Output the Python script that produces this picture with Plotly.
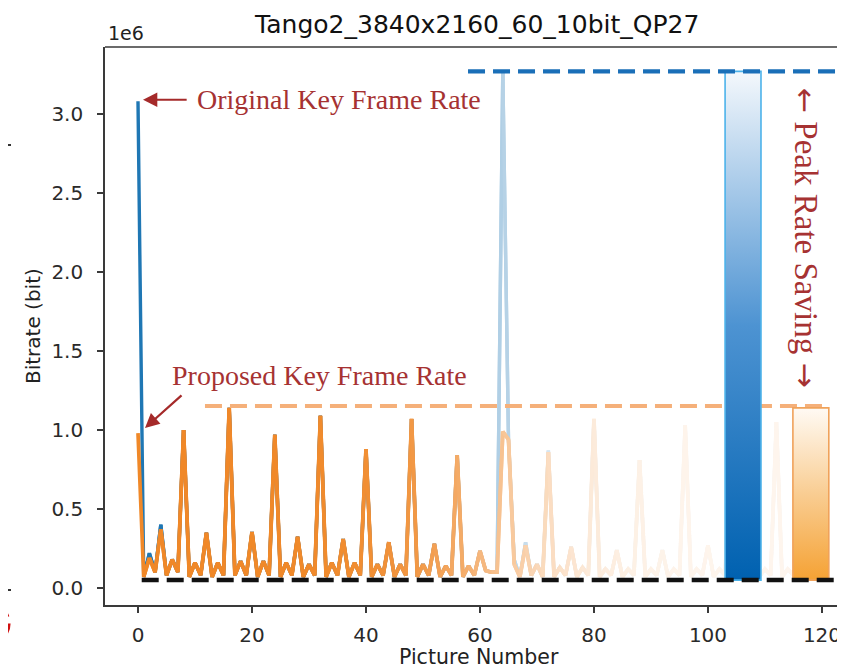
import math
import plotly.graph_objects as go

# ---------------- data (bits, in units of 1e6) ----------------
frames = list(range(120))

proposed_rate = [
    0.98, 0.07, 0.19, 0.10, 0.37, 0.08, 0.18, 0.10,
    1.00, 0.07, 0.16, 0.08, 0.35, 0.07, 0.16, 0.08,
    1.14, 0.08, 0.17, 0.08, 0.355, 0.07, 0.17, 0.08,
    0.97, 0.07, 0.16, 0.08, 0.325, 0.07, 0.15, 0.08,
    1.09, 0.07, 0.16, 0.08, 0.31, 0.07, 0.16, 0.08,
    0.88, 0.07, 0.15, 0.08, 0.29, 0.07, 0.15, 0.08,
    1.07, 0.07, 0.15, 0.08, 0.28, 0.07, 0.14, 0.08,
    0.84, 0.07, 0.14, 0.08, 0.235, 0.11, 0.10, 0.10,
    0.99, 0.94, 0.15, 0.07, 0.27, 0.08, 0.15, 0.07,
    0.86, 0.07, 0.13, 0.08, 0.26, 0.07, 0.13, 0.08,
    1.07, 0.07, 0.12, 0.08, 0.24, 0.07, 0.12, 0.08,
    0.81, 0.07, 0.12, 0.08, 0.24, 0.07, 0.12, 0.08,
    1.03, 0.07, 0.12, 0.08, 0.27, 0.07, 0.12, 0.08,
    0.95, 0.07, 0.12, 0.08, 0.25, 0.07, 0.12, 0.08,
    1.05, 0.07, 0.12, 0.08, 0.24, 0.07, 0.12, 0.08,
]

original_rate = list(proposed_rate)
original_changes = {0: 3.08, 2: 0.22, 4: 0.40, 64: 3.27, 66: 0.18, 68: 0.29, 72: 0.87}
for k, v in original_changes.items():
    original_rate[k] = v

base_rate = 0.05          # black dashed reference level
y_tick_vals = [0.0, 0.5, 1.0, 1.5, 2.0, 2.5, 3.0]
y_tick_text = ["0.0", "0.5", "1.0", "1.5", "2.0", "2.5", "3.0"]
x_tick_vals = [0, 20, 40, 60, 80, 100, 120]

peak_original = max(original_rate)
peak_proposed = max(proposed_rate)

# ---------------- styling ----------------
# page body has an 8px margin, so the figure is sized to end at the window edge
W, H = 837, 660
ML, MR, MT, MB = 97, 0, 39, 63
PW, PH = W - ML - MR, H - MT - MB
X_RANGE = [-5.79, 124.04]
Y_RANGE = [-0.1076, 3.424]

BLUE = (31, 119, 180)
ORANGE = (240, 136, 40)
RED = "#a63232"
AXIS = "#3a3a3a"


def fade(i, center):
    return 0.08 + 0.92 / (1.0 + math.exp((i - center) / 8.0))


def blend(rgb, a):
    r, g, b = [round(255 * (1 - a) + c * a) for c in rgb]
    return f"rgb({r},{g},{b})"


def px_x(px):   # window pixel -> paper x
    return (px - 8 - ML) / PW


def px_y(py):   # window pixel -> paper y
    return (MT + PH - (py - 8)) / PH


fig = go.Figure()

n = len(frames)
for series, col, wdt, ctr in ((original_rate, BLUE, 3.4, 56), (proposed_rate, ORANGE, 3.7, 62)):
    for i in range(n - 1):
        fig.add_trace(go.Scatter(
            x=frames[i:i + 3], y=series[i:i + 3], mode="lines",
            line=dict(color=blend(col, fade(i, ctr)), width=wdt),
            hoverinfo="skip", showlegend=False))

# orange dashed peak line (behind bars)
fig.add_trace(go.Scatter(x=[11.75, 121.0], y=[peak_proposed + 0.012] * 2, mode="lines",
                         line=dict(color="#f5b07a", width=4.2, dash="17px,8px"),
                         showlegend=False, hoverinfo="skip"))

# gradient bars
BAR_W = 6.3
for cx, top, cs, edge in (
        (106.15, peak_original, [[0, "#0061b0"], [0.5, "#4d93d2"], [1, "#f4f8fc"]], "#4cb2ea"),
        (118.05, peak_proposed, [[0, "#f5a234"], [0.5, "#f9cd92"], [1, "#fffaf4"]], "#f0a25a")):
    x0, x1 = cx - BAR_W / 2, cx + BAR_W / 2
    fig.add_trace(go.Scatter(
        x=[x0, x1, x1, x0, x0], y=[base_rate, base_rate, top, top, base_rate],
        mode="lines", fill="toself",
        fillgradient=dict(type="vertical", colorscale=cs),
        line=dict(color=edge, width=1.6), showlegend=False, hoverinfo="skip"))

# blue dashed peak line
fig.add_trace(go.Scatter(x=[57.9, 124.04], y=[peak_original] * 2, mode="lines",
                         line=dict(color="#1a6fb8", width=4.2, dash="17px,8px"),
                         showlegend=False, hoverinfo="skip"))
# black dashed base line
fig.add_trace(go.Scatter(x=[0.65, 124.04], y=[base_rate] * 2, mode="lines",
                         line=dict(color="#111111", width=4.5, dash="17px,8px"),
                         showlegend=False, hoverinfo="skip"))

ann_font = dict(family="Liberation Serif", size=28, color=RED)
arrow_span = '<span style="font-family:DejaVu Sans;font-size:30px">{}</span>'
annotations = [
    dict(x=10.0, y=3.09, xref="x", yref="y", text="Original Key Frame Rate",
         showarrow=False, xanchor="left", yanchor="middle", font=ann_font),
    dict(x=0.88, y=3.09, ax=8.8, ay=3.09, xref="x", yref="y", axref="x", ayref="y",
         text="", showarrow=True, arrowhead=2, arrowsize=1.3, arrowwidth=2.2, arrowcolor="#a52a2a"),
    dict(x=5.6, y=1.342, xref="x", yref="y", text="Proposed Key Frame Rate",
         showarrow=False, xanchor="left", yanchor="middle", font=ann_font),
    dict(x=1.23, y=1.013, ax=7.9, ay=1.228, xref="x", yref="y", axref="x", ayref="y",
         text="", showarrow=True, arrowhead=2, arrowsize=1.3, arrowwidth=2.2, arrowcolor="#a52a2a"),
    dict(x=117.3, y=2.218, xref="x", yref="y",
         text=arrow_span.format("←") + " Peak Rate Saving " + arrow_span.format("→"),
         showarrow=False, textangle=90, xanchor="center", yanchor="middle",
         font=dict(family="Liberation Serif", size=33, color=RED)),
    dict(x=0, y=1.025, xref="paper", yref="paper", text="1e6", showarrow=False,
         xanchor="left", yanchor="middle", xshift=1,
         font=dict(family="DejaVu Sans", size=19, color="#222")),
    dict(x=0, y=0.5, xref="paper", yref="paper", text="Bitrate (bit)", showarrow=False,
         textangle=-90, xanchor="center", yanchor="middle", xshift=-72,
         font=dict(family="DejaVu Sans", size=20, color="#222")),
    dict(x=0.505, y=-0.094, xref="paper", yref="paper", text="Picture Number", showarrow=False,
         xanchor="center", yanchor="middle",
         font=dict(family="DejaVu Sans", size=20.5, color="#222")),
]

shapes = [
    dict(type="line", xref="paper", yref="paper", x0=0, x1=1, y0=1, y1=1,
         line=dict(color=AXIS, width=1.6)),
    dict(type="circle", xref="paper", yref="paper",
         x0=px_x(-26), x1=px_x(9), y0=px_y(642), y1=px_y(605),
         line=dict(color="#d01010", width=3.2, dash="dash")),
    dict(type="line", xref="paper", yref="paper", x0=px_x(8), x1=px_x(11),
         y0=px_y(145), y1=px_y(145), line=dict(color="#333", width=2)),
    dict(type="line", xref="paper", yref="paper", x0=px_x(8), x1=px_x(11),
         y0=px_y(590), y1=px_y(590), line=dict(color="#333", width=2)),
]

tick_font = dict(family="DejaVu Sans", size=20, color="#2a2a2a")
fig.update_layout(
    width=W, height=H, autosize=False,
    margin=dict(l=ML, r=MR, t=MT, b=MB),
    paper_bgcolor="white", plot_bgcolor="white",
    showlegend=False,
    title=dict(text="Tango2_3840x2160_60_10bit_QP27", x=0.503, xref="paper",
               y=1 - 16 / H, yref="container", xanchor="center", yanchor="middle",
               font=dict(family="DejaVu Sans", size=25, color="#111")),
    xaxis=dict(range=X_RANGE, tickvals=x_tick_vals, showgrid=False, zeroline=False,
               showline=True, linecolor=AXIS, linewidth=1.6, ticks="outside",
               ticklen=6, tickwidth=1.5, tickcolor=AXIS, tickfont=tick_font,
               ticklabelstandoff=5, automargin=False),
    yaxis=dict(range=Y_RANGE, tickvals=y_tick_vals, ticktext=y_tick_text, showgrid=False,
               zeroline=False, showline=True, linecolor=AXIS, linewidth=1.6,
               ticks="outside", ticklen=6, tickwidth=1.5, tickcolor=AXIS,
               tickfont=tick_font, ticklabelstandoff=10, automargin=False),
    annotations=annotations, shapes=shapes,
)

fig.write_html("out.html")
